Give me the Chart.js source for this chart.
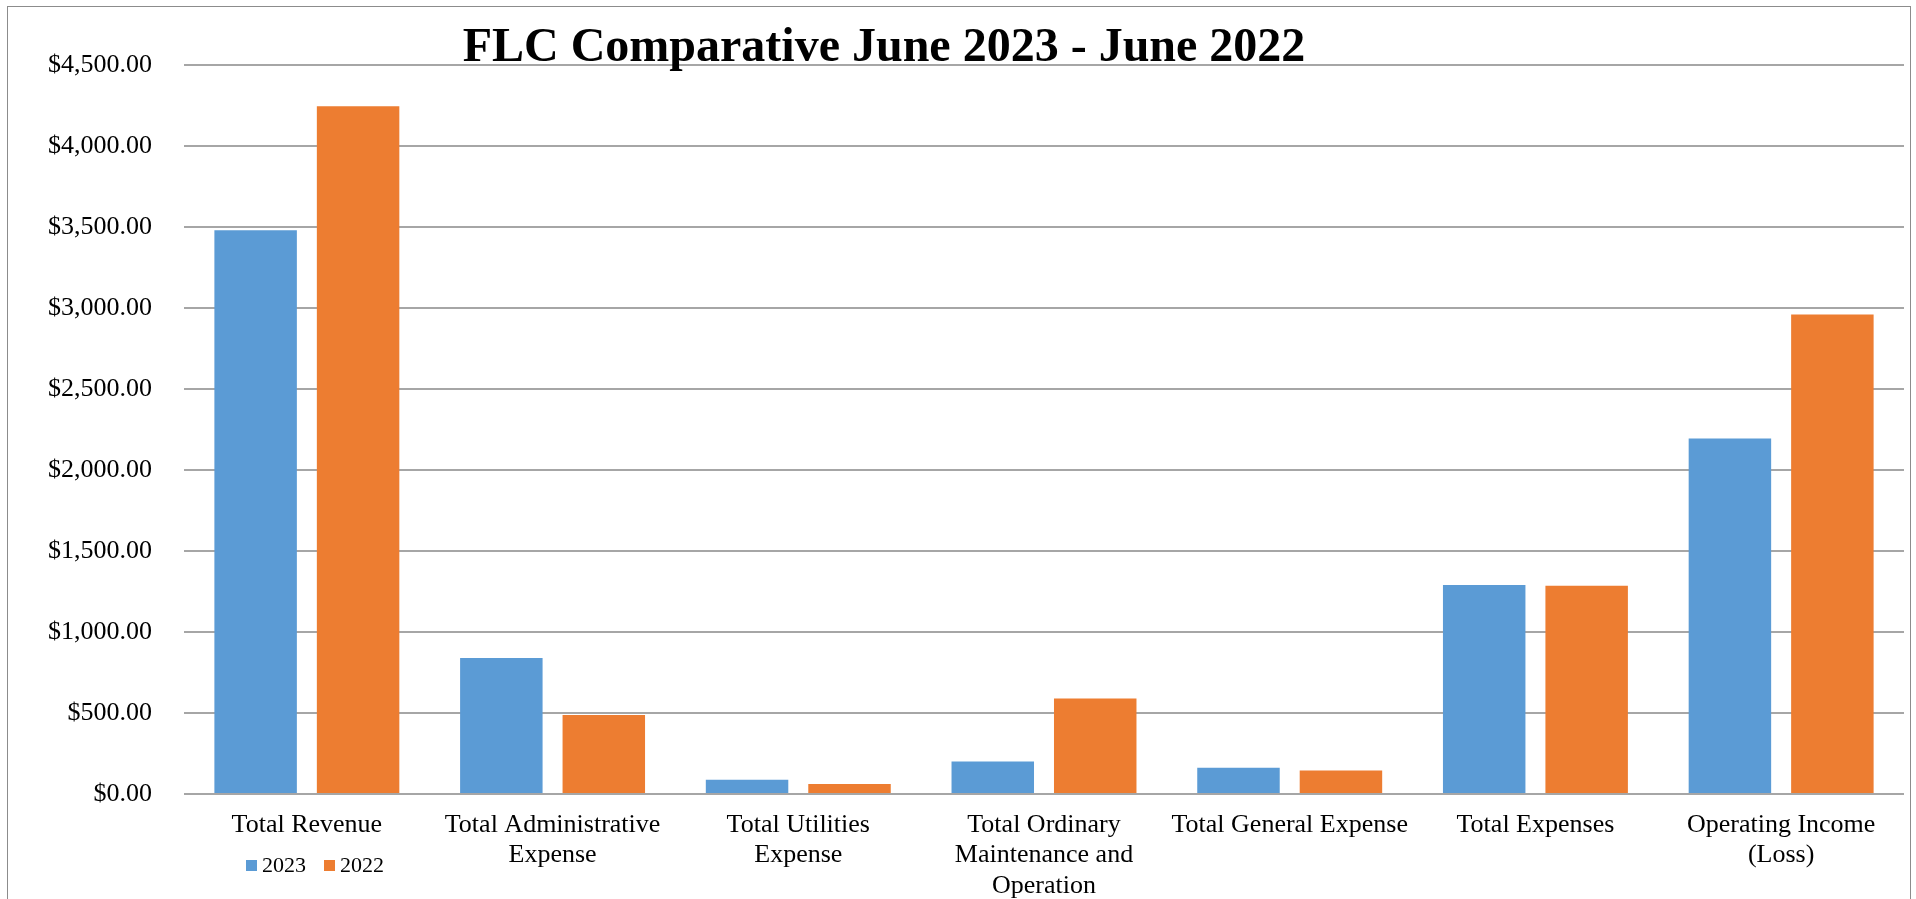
<!DOCTYPE html>
<html>
<head>
<meta charset="utf-8">
<title>FLC Comparative June 2023 - June 2022</title>
<script src="https://cdn.jsdelivr.net/npm/chart.js@4.4.0/dist/chart.umd.min.js"></script>
<style>
  html, body { margin: 0; padding: 0; background: #fff; overflow: hidden; }
  #wrap { position: relative; width: 1916px; height: 899px; }
  #chart { position: absolute; left: 0; top: 0; }
  /* outer chart frame, runs off the bottom of the page like the original */
  #frame {
    position: absolute; left: 7px; top: 6px; width: 1904px; height: 960px;
    border: 1px solid #8c8c8c; box-sizing: border-box; pointer-events: none;
  }
  #legend {
    position: absolute; left: 246px; top: 854px;
    display: flex; align-items: center;
    font: 22px "Liberation Serif", "Times New Roman", serif; line-height: 22px; color: #000;
  }
  #legend .item { display: flex; align-items: center; margin-right: 18px; }
  #legend .box { width: 11px; height: 11px; margin-right: 5px; }
</style>
</head>
<body>
<div id="wrap">
  <canvas id="chart" width="1916" height="899"></canvas>
  <div id="frame"></div>
  <div id="legend"></div>
</div>
<script>
// Chart data
const categories = [
  "Total Revenue",
  ["Total Administrative", "Expense"],
  ["Total Utilities", "Expense"],
  ["Total Ordinary", "Maintenance and", "Operation"],
  "Total General Expense",
  "Total Expenses",
  ["Operating Income", "(Loss)"]
];
const seriesNames = ["2023", "2022"];
const values2023 = [3480, 840, 88, 200, 162, 1290, 2195];
const values2022 = [4245, 488, 61, 590, 145, 1285, 2960];
const yMin = 0;
const yMax = 4500;
const yStep = 500;

const serif = "'Liberation Serif', 'Times New Roman', serif";

// Title sits over the top gridline, slightly left of centre
const titlePlugin = {
  id: "overTitle",
  afterDraw(chart) {
    const ctx = chart.ctx;
    ctx.save();
    ctx.font = "bold 48px " + serif;
    ctx.fillStyle = "#000";
    ctx.textAlign = "center";
    ctx.textBaseline = "alphabetic";
    ctx.fillText("FLC Comparative June 2023 - June 2022", 884, 61);
    ctx.restore();
  }
};

const ctx = document.getElementById("chart").getContext("2d");

const chart = new Chart(ctx, {
  type: "bar",
  data: {
    labels: categories,
    datasets: [
      {
        label: seriesNames[0],
        data: values2023,
        backgroundColor: "#5B9BD5",
        borderWidth: 0
      },
      {
        label: seriesNames[1],
        data: values2022,
        backgroundColor: "#ED7D31",
        borderWidth: 0
      }
    ]
  },
  options: {
    responsive: false,
    animation: false,
    categoryPercentage: 0.834,
    barPercentage: 0.805,
    layout: {
      padding: { left: 0, right: 12, top: 65, bottom: 0 }
    },
    plugins: {
      legend: { display: false },
      title: { display: false },
      tooltip: { enabled: false }
    },
    scales: {
      x: {
        grid: { display: false, drawTicks: false },
        border: { display: false },
        ticks: {
          autoSkip: false,
          maxRotation: 0,
          minRotation: 0,
          padding: 16,
          color: "#000",
          font: { family: serif, size: 26, lineHeight: 1.17 }
        },
        afterFit: (scale) => { scale.height = 105; }
      },
      y: {
        min: yMin,
        max: yMax,
        grid: { color: "#a6a6a6", lineWidth: 2, drawTicks: false },
        border: { display: false },
        ticks: {
          stepSize: yStep,
          padding: 32,
          color: "#000",
          font: { family: serif, size: 26 },
          callback: (v) => "$" + Number(v).toLocaleString("en-US", { minimumFractionDigits: 2, maximumFractionDigits: 2 })
        },
        afterFit: (scale) => { scale.width = 184; }
      }
    }
  },
  plugins: [titlePlugin]
});

// Legend built from the chart's datasets
const legend = document.getElementById("legend");
chart.data.datasets.forEach((ds) => {
  const item = document.createElement("span");
  item.className = "item";
  const box = document.createElement("span");
  box.className = "box";
  box.style.background = ds.backgroundColor;
  const txt = document.createElement("span");
  txt.textContent = ds.label;
  item.appendChild(box);
  item.appendChild(txt);
  legend.appendChild(item);
});
</script>
</body>
</html>
